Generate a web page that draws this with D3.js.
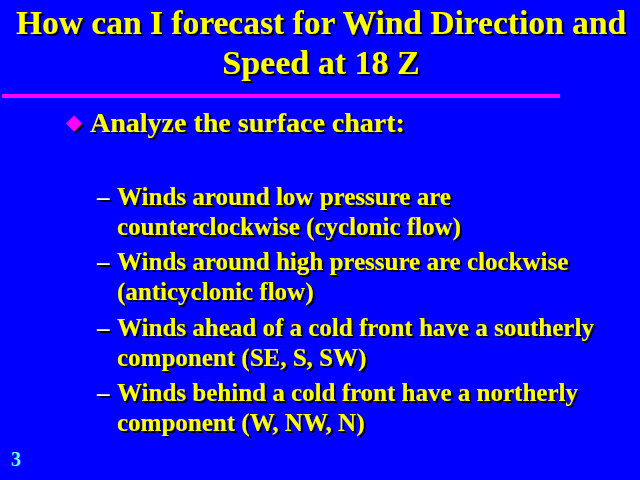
<!DOCTYPE html>
<html>
<head>
<meta charset="utf-8">
<script src="https://cdn.jsdelivr.net/npm/d3@7"></script>
<style>
  html, body { margin: 0; padding: 0; background: #0000ff; }
  svg { display: block; }
</style>
</head>
<body>
<div id="slide"></div>
<script>
// slide content
const titleLines = ['How can I forecast for Wind Direction and', 'Speed at 18 Z'];
const mainBullets = ['Analyze the surface chart:'];
const subBullets = [
  ['Winds around low pressure are', 'counterclockwise (cyclonic flow)'],
  ['Winds around high pressure are clockwise', '(anticyclonic flow)'],
  ['Winds ahead of a cold front have a southerly', 'component (SE, S, SW)'],
  ['Winds behind a cold front have a northerly', 'component (W, NW, N)']
];
const pageNumber = ['3'];

const width = 640, height = 480;
const font = '"Liberation Serif", "Times New Roman", serif';

const svg = d3.select('#slide').append('svg')
  .attr('width', width)
  .attr('height', height);

// hard black drop shadow, one per offset
const defs = svg.append('defs');
function shadowFilter(id, off) {
  const f = defs.append('filter').attr('id', id)
    .attr('x', '-5%').attr('y', '-20%').attr('width', '115%').attr('height', '150%');
  f.append('feFlood').attr('flood-color', '#000').attr('result', 'black');
  f.append('feComposite').attr('in', 'black').attr('in2', 'SourceAlpha')
    .attr('operator', 'in').attr('result', 'sh');
  f.append('feOffset').attr('in', 'sh').attr('dx', off).attr('dy', off).attr('result', 'shOff');
  const m = f.append('feMerge');
  m.append('feMergeNode').attr('in', 'shOff');
  m.append('feMergeNode').attr('in', 'SourceGraphic');
}
shadowFilter('sh2', 2);
shadowFilter('sh1', 1.5);

svg.append('rect')
  .attr('width', width)
  .attr('height', height)
  .attr('fill', '#0000ff');

function boldText(g, x, y, str, size, color, filt) {
  return g.append('text')
    .attr('x', x).attr('y', y)
    .attr('font-family', font).attr('font-weight', 'bold')
    .attr('font-size', size).attr('fill', color)
    .attr('filter', `url(#${filt})`)
    .text(str);
}

// title
const titleY = d3.scaleLinear().domain([0, 1]).range([34, 74]);
const title = svg.append('g').attr('text-anchor', 'middle');
titleLines.forEach((t, i) => boldText(title, 321, titleY(i), t, i === 0 ? 33.5 : 34, '#ffff00', 'sh2'));

// magenta rule under the title
svg.append('rect')
  .attr('x', 2).attr('y', 94)
  .attr('width', 558).attr('height', 4)
  .attr('fill', '#ff00ff');

// main bullet
const main = svg.append('g');
mainBullets.forEach((t, i) => {
  const y = 132 + i * 40;
  main.append('path')
    .attr('d', d3.symbol(d3.symbolDiamond2, 163)())
    .attr('transform', `translate(74,${y - 8.5})`)
    .attr('fill', '#ff00ff')
    .attr('filter', 'url(#sh1)');
  boldText(main, 90, y, t, 28, '#ffff00', 'sh1');
});

// sub bullets
const itemY = d3.scaleLinear().domain([0, subBullets.length - 1]).range([205, 401]);
const sub = svg.append('g');
subBullets.forEach((lines, i) => {
  const y0 = itemY(i);
  boldText(sub, 97, y0, '\u2013', 25, '#ffffff', 'sh1');
  lines.forEach((t, j) => boldText(sub, 117, y0 + j * 30, t, 25, '#ffff00', 'sh1'));
});

// page number
svg.selectAll('text.page')
  .data(pageNumber)
  .join('text')
  .attr('class', 'page')
  .attr('x', 11).attr('y', 466)
  .attr('font-family', font).attr('font-weight', 'bold')
  .attr('font-size', 20).attr('fill', '#66ffff')
  .text(d => d);
</script>
</body>
</html>
